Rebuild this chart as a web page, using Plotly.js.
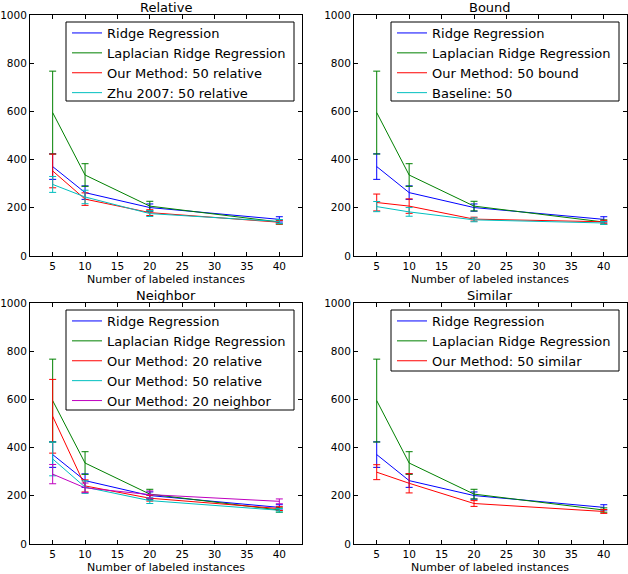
<!DOCTYPE html>
<html>
<head>
<meta charset="utf-8">
<script src="https://cdn.plot.ly/plotly-3.0.1.min.js"></script>
<style>
  html, body { margin:0; padding:0; background:#fff; }
  #chart { width:628px; height:574px; }
</style>
</head>
<body>
<div id="chart"></div>
<script>
// labeled-instance counts on the x axis
const xs = [5, 10, 20, 40];

// series shared by every panel
const ridge    = [371, 263, 201, 152];  const ridgeErr = [53, 28, 15, 11];
const lap      = [595, 336, 207, 141];  const lapErr   = [172, 47, 20, 9];

// panel specific series
const rel50    = [353, 236, 180, 140];  const rel50Err = [70, 26, 12, 7];
const zhu50    = [297, 245, 176, 143];  const zhu50Err = [33, 28, 12, 8];
const bound50  = [222, 207, 153, 142];  const bound50Err = [35, 30, 8, 6];
const base50   = [205, 183, 150, 137];  const base50Err  = [21, 18, 8, 6];
const rel20    = [530, 241, 190, 147];  const rel20Err = [153, 25, 12, 8];
const nbr20    = [290, 233, 205, 177];  const nbr20Err = [40, 20, 15, 10];
const sim50    = [298, 252, 168, 135];  const sim50Err = [31, 40, 12, 8];

const panelTitles = ['Relative', 'Bound', 'Neighbor', 'Similar'];
const xTicks = [5, 10, 15, 20, 25, 30, 35, 40];
const yTicks = [0, 200, 400, 600, 800, 1000];

const C = {blue:'#0000ff', green:'#008000', red:'#ff0000', cyan:'#00bfbf', magenta:'#bf00bf'};

const W = 628, H = 574;
// plot boxes in pixels: [left, right, top, bottom]
const boxes = [[30, 302, 15, 256], [354, 626.5, 15, 256], [30, 302, 303, 544], [354, 626.5, 303, 544]];
// legend frames in pixels: [left, right, top, bottom]
const legendBoxes = [[66, 294, 22, 101], [391, 619, 22, 101], [66, 294, 310, 410], [391, 619, 310, 371]];

function line(name, y, err, color, p) {
  const s = p === 1 ? '' : p;
  return {
    type:'scatter', mode:'lines', name, x:xs, y,
    xaxis:'x' + s, yaxis:'y' + s, legend:'legend' + s,
    line:{color, width:1},
    error_y:{type:'data', array:err, visible:true, color, thickness:1, width:3.5},
  };
}

const panels = [
  [['Ridge Regression', ridge, ridgeErr, C.blue], ['Laplacian Ridge Regression', lap, lapErr, C.green],
   ['Our Method: 50 relative', rel50, rel50Err, C.red], ['Zhu 2007: 50 relative', zhu50, zhu50Err, C.cyan]],
  [['Ridge Regression', ridge, ridgeErr, C.blue], ['Laplacian Ridge Regression', lap, lapErr, C.green],
   ['Our Method: 50 bound', bound50, bound50Err, C.red], ['Baseline: 50', base50, base50Err, C.cyan]],
  [['Ridge Regression', ridge, ridgeErr, C.blue], ['Laplacian Ridge Regression', lap, lapErr, C.green],
   ['Our Method: 20 relative', rel20, rel20Err, C.red], ['Our Method: 50 relative', rel50, rel50Err, C.cyan],
   ['Our Method: 20 neighbor', nbr20, nbr20Err, C.magenta]],
  [['Ridge Regression', ridge, ridgeErr, C.blue], ['Laplacian Ridge Regression', lap, lapErr, C.green],
   ['Our Method: 50 similar', sim50, sim50Err, C.red]],
];

const traces = [];
panels.forEach((list, i) => list.forEach(d => traces.push(line(d[0], d[1], d[2], d[3], i + 1))));

const font = {family:'DejaVu Sans, sans-serif', color:'#000'};
const layout = {
  width:W, height:H, margin:{l:0, r:0, t:0, b:0},
  paper_bgcolor:'#fff', plot_bgcolor:'#fff',
  font:{...font, size:10.5}, showlegend:true, annotations:[], shapes:[],
};

boxes.forEach((b, i) => {
  const s = i === 0 ? '' : i + 1;
  const lb = legendBoxes[i];
  const axBase = {showline:true, linecolor:'#000', linewidth:1, mirror:'allticks', ticks:'inside',
    ticklen:4, tickcolor:'#000', showgrid:false, zeroline:false, automargin:false,
    tickfont:{...font, size:10.5}};
  layout['xaxis' + s] = {...axBase, domain:[b[0] / W, b[1] / W], range:[1.5, 43.5],
    tickvals:xTicks, anchor:'y' + s};
  layout['yaxis' + s] = {...axBase, domain:[1 - b[3] / H, 1 - b[2] / H], range:[0, 1000],
    tickvals:yTicks, anchor:'x' + s};
  // white framed box behind the legend entries
  layout.shapes.push({type:'rect', xref:'paper', yref:'paper', layer:'above',
    x0:lb[0] / W, x1:lb[1] / W, y0:1 - lb[3] / H, y1:1 - lb[2] / H,
    fillcolor:'#fff', line:{color:'#000', width:1}});
  layout['legend' + s] = {x:(lb[0] + 1) / W, y:1 - (lb[2] - 4) / H, xanchor:'left', yanchor:'top',
    xref:'paper', yref:'paper', bgcolor:'rgba(0,0,0,0)', borderwidth:0,
    font:{...font, size:13}, itemwidth:30, tracegroupgap:0};
  layout.annotations.push({text:panelTitles[i], xref:'paper', yref:'paper', x:(b[0] + b[1]) / 2 / W,
    y:1 - b[2] / H, xanchor:'center', yanchor:'bottom', showarrow:false, font:{...font, size:13}, yshift:-1.5});
  layout.annotations.push({text:'Number of labeled instances', xref:'paper', yref:'paper',
    x:(b[0] + b[1]) / 2 / W, y:1 - (b[3] + 15) / H, xanchor:'center', yanchor:'top', showarrow:false,
    font:{...font, size:11}});
});

Plotly.newPlot('chart', traces, layout, {displayModeBar:false, staticPlot:true});
</script>
</body>
</html>
